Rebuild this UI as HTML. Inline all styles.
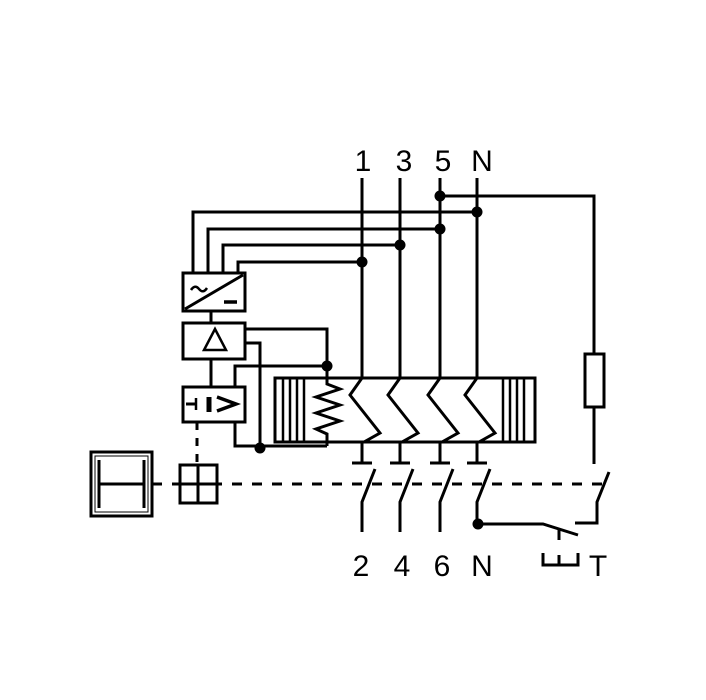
<!DOCTYPE html>
<html><head><style>body{margin:0;background:#fff}svg{display:block}</style></head><body>
<svg width="706" height="700" viewBox="0 0 706 700" xmlns="http://www.w3.org/2000/svg">
<g fill="none" stroke="#000" stroke-width="3" stroke-linejoin="miter">
<line x1="362" y1="178" x2="362" y2="378"/>
<line x1="400" y1="178" x2="400" y2="378"/>
<line x1="440" y1="178" x2="440" y2="378"/>
<line x1="477" y1="178" x2="477" y2="378"/>
<polyline points="193,273 193,212 477,212"/>
<polyline points="208,273 208,229 440,229"/>
<polyline points="223,273 223,245 400,245"/>
<polyline points="238,273 238,262 362,262"/>
<polyline points="440,196 594,196 594,354"/>
<rect x="585" y="354" width="19" height="53"/>
<line x1="594" y1="407" x2="594" y2="464"/>
<rect x="183" y="273" width="62" height="38"/>
<line x1="185" y1="309" x2="243" y2="275"/>
<path d="M191,290 q4,-6 8,-1 q4,5 8,-1" stroke-width="2.5"/>
<line x1="224" y1="302" x2="237" y2="302" stroke-width="3.5"/>
<rect x="183" y="323" width="62" height="36"/>
<line x1="211" y1="311" x2="211" y2="323"/>
<line x1="211" y1="359" x2="211" y2="387"/>
<rect x="183" y="387" width="62" height="35"/>
<polygon points="215,329 204,350 226,350" stroke-width="2.5"/>
<line x1="186" y1="404" x2="196" y2="404"/>
<line x1="196" y1="398" x2="196" y2="410" stroke-width="2.5"/>
<line x1="209" y1="397" x2="209" y2="412" stroke-width="5"/>
<polyline points="217,397 236,404 217,411" stroke-width="3.5"/>
<polyline points="245,329 327,329 327,366"/>
<polyline points="245,343 260,343 260,448"/>
<polyline points="235,387 235,366 327,366 327,380"/>
<polyline points="235,422 235,446 327,446"/>
<polyline points="327,378 327,384 340,389 316,397 340,405 316,413 340,421 316,429 327,434 327,446"/>
<rect x="275" y="378" width="260" height="64"/>
<line x1="283" y1="378" x2="283" y2="442" stroke-width="2.5"/>
<line x1="290" y1="378" x2="290" y2="442" stroke-width="2.5"/>
<line x1="297" y1="378" x2="297" y2="442" stroke-width="2.5"/>
<line x1="304" y1="378" x2="304" y2="442" stroke-width="2.5"/>
<line x1="503" y1="378" x2="503" y2="442" stroke-width="2.5"/>
<line x1="510" y1="378" x2="510" y2="442" stroke-width="2.5"/>
<line x1="517" y1="378" x2="517" y2="442" stroke-width="2.5"/>
<line x1="524" y1="378" x2="524" y2="442" stroke-width="2.5"/>
<polyline points="362,378 350,395 380,433 364,442"/>
<polyline points="400,378 388,395 418,433 402,442"/>
<polyline points="440,378 428,395 458,433 442,442"/>
<polyline points="477,378 465,395 495,433 479,442"/>
<line x1="362" y1="442" x2="362" y2="463"/><line x1="352" y1="463" x2="372" y2="463"/>
<polyline points="375,469 362,502 362,532"/>
<line x1="400" y1="442" x2="400" y2="463"/><line x1="390" y1="463" x2="410" y2="463"/>
<polyline points="413,469 400,502 400,532"/>
<line x1="440" y1="442" x2="440" y2="463"/><line x1="430" y1="463" x2="450" y2="463"/>
<polyline points="453,469 440,502 440,532"/>
<line x1="477" y1="442" x2="477" y2="463"/><line x1="467" y1="463" x2="487" y2="463"/>
<polyline points="490,469 477,502 477,524"/>
<polyline points="478,524 543,524 578,535"/>
<line x1="559" y1="529" x2="559" y2="540"/>
<polyline points="543,553 543,565 578,565 578,553"/>
<line x1="559" y1="555" x2="559" y2="565"/>
<polyline points="609,472 597,502 597,523 575,523"/>
<line x1="152" y1="484" x2="612" y2="484" stroke-dasharray="10,10"/>
<line x1="197" y1="422" x2="197" y2="465" stroke-dasharray="8,8"/>
<rect x="91" y="452" width="61" height="64"/>
<rect x="95" y="456" width="53" height="56" stroke-width="1"/>
<line x1="99" y1="460" x2="99" y2="508"/>
<line x1="144" y1="460" x2="144" y2="508"/>
<line x1="99" y1="484" x2="144" y2="484"/>
<rect x="180" y="465" width="37" height="38"/>
<line x1="198" y1="465" x2="198" y2="503"/>
<line x1="180" y1="484" x2="217" y2="484"/>
</g>
<g fill="#000">
<circle cx="440" cy="196" r="5.5"/><circle cx="477" cy="212" r="5.5"/>
<circle cx="440" cy="229" r="5.5"/><circle cx="400" cy="245" r="5.5"/>
<circle cx="362" cy="262" r="5.5"/><circle cx="327" cy="366" r="5.5"/>
<circle cx="260" cy="448" r="5.5"/><circle cx="478" cy="524" r="5.5"/>
</g>
<g font-family="Liberation Sans, sans-serif" font-size="30" text-anchor="middle" fill="#000">
<text x="363" y="171">1</text><text x="404" y="171">3</text><text x="443" y="171">5</text><text x="482" y="171">N</text>
<text x="361" y="576">2</text><text x="402" y="576">4</text><text x="442" y="576">6</text><text x="482" y="576">N</text>
<text x="598" y="576">T</text>
</g>
</svg>
</body></html>
